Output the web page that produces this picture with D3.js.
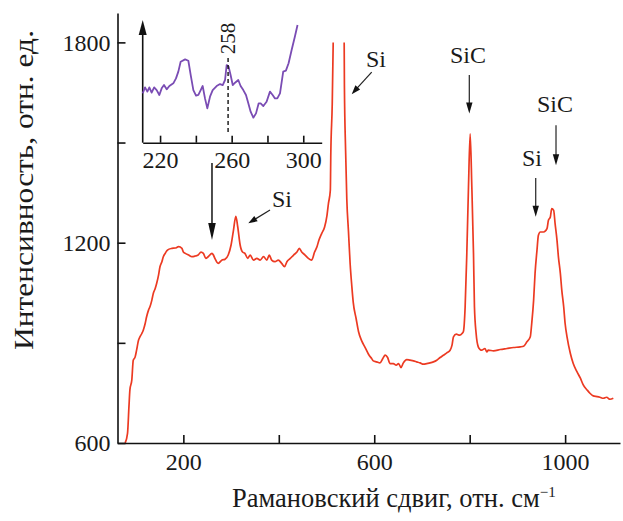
<!DOCTYPE html>
<html><head><meta charset="utf-8">
<script src="https://cdn.jsdelivr.net/npm/d3@7/dist/d3.min.js"></script>
<style>
body{margin:0;background:#fff}
svg{display:block}
text{font-family:"Liberation Serif","Times New Roman",serif;fill:#1a1a1a}
</style>
</head><body><svg id="c" width="623" height="521"></svg>
<script>
// ---- main spectrum ----
const ramanShift = [78,83,86,88,92,95,99,102,106,109,113,116,120,123,127,130,134,137,141,144,148,151,155,158,162,165,169,176,183,190,197,200,204,211,218,225,231,237,242,247,252,260,263,266,273,281,287,294,300,305,310,314,319,324,329,335,340,347,354,361,368,375,380,385,392,399,406,412,417,424,431,438,443,448,455,462,469,475,480,484,490,496,501,504,508,509,512,514,520,537,537.5,540,542.5,546,549.5,553,556,562,567,574,581,588,595,598,605,612,618,623,628,633,640,646,651,656,661,668,675,682,689,696,703,710,717,724,731,738,745,752,759,763,766,772,779,784,787,790.5,794,797.5,801,804.5,808,810,813.5,818,822,825,832,836,839,850,864,878,892,906,913,920,927,930,934,937,941,944,948,955,962,965,969,972,976,979,983,986,990,993,997,1000,1004,1011,1017,1025,1032,1038,1046,1052,1059,1067,1073,1080,1087,1094,1101];
const intensity = [600,629,709,759,789,848,858,878,908,918,928,938,958,978,998,1008,1028,1048,1063,1078,1103,1128,1143,1158,1168,1175,1180,1183,1184,1188,1183,1172,1168,1163,1158,1160,1163,1172,1168,1153,1158,1168,1163,1153,1138,1148,1150,1163,1193,1237,1279,1247,1193,1172,1168,1153,1163,1148,1153,1148,1158,1148,1163,1148,1143,1148,1138,1128,1143,1153,1163,1172,1183,1172,1163,1153,1148,1172,1188,1207,1228,1247,1282,1317,1357,1467,1616,1800,2600,1800,1670,1476,1331,1234,1137,1070,1021,973,934,905,886,866,852,846,843,840,853,863,856,838,838,833,838,826,840,850,848,846,843,840,836,838,840,843,848,856,863,870,878,893,918,926,923,928,935,1008,1168,1367,1526,1367,1168,1008,928,888,880,878,883,873,878,876,880,883,886,888,890,903,918,958,1028,1108,1177,1222,1232,1232,1242,1267,1277,1302,1297,1257,1207,1157,1108,1058,1008,958,918,868,838,813,794,774,759,749,741,739,737,734,737,731,734];

// ---- inset (zoomed region) ----
const insetShift = [210.3,211.6,212.9,214.0,215.3,216.7,218.1,219.6,220.9,222.2,223.7,225.2,227.4,228.9,230.2,231.5,234.0,235.8,237.1,238.6,240.1,241.4,242.7,243.8,245.1,246.4,247.9,249.4,251.6,253.5,255.0,256.3,257.2,258.3,259.4,260.6,261.9,263.7,265.0,266.5,268.0,269.3,270.6,272.1,273.6,275.1,276.2,277.7,279.5,281.4,282.9,284.2,285.5,287.0,288.8,290.3,291.8,293.5,295.3,296.8];
const insetIntensity = [1170.2,1175.1,1171.6,1175.1,1170.8,1175.1,1172.9,1168.9,1174.3,1177.0,1173.5,1176.2,1178.4,1182.4,1187.9,1196.0,1197.9,1196.8,1185.2,1172.9,1168.3,1168.9,1172.9,1176.2,1166.1,1158.0,1167.5,1172.9,1176.2,1177.8,1177.0,1181.1,1193.3,1191.9,1185.2,1177.0,1178.9,1181.1,1176.2,1172.9,1168.9,1162.1,1155.3,1150.4,1153.9,1162.1,1162.1,1159.9,1163.4,1171.6,1168.9,1166.1,1166.1,1170.2,1187.9,1188.7,1194.7,1205.5,1216.4,1225.9];

// ---- ticks ----
const xTickValues = [200,400,600,800,1000];
const xTickLabels = ["200","","600","","1000"];
const yTickValues = [600,900,1200,1500,1800];
const yTickLabels = ["600","","1200","","1800"];
const insetTickValues = [220,240,260,280,300];
const insetTickLabels = ["220","","260","","300"];
const markedShift = 258;

// ---- annotations (label, label position, arrow from -> to), in data units ----
const annLabels = ["Si","Si","SiC","SiC","Si"];
const annTextX = [406.7,603.7,796.5,978.8,930.6];
const annTextY = [1307,1726,1738,1591,1430];
const annFromX = [381.6,594.7,799.2,980.9,938.4];
const annFromY = [1298,1711,1702,1552,1394];
const annToX = [336.1,552.8,799.2,980.9,938.4];
const annToY = [1258,1645,1587,1432,1278];

const svg = d3.select("#c");
const x = d3.scaleLinear().domain([62,1115]).range([117.5,620]);
const y = d3.scaleLinear().domain([600,1888]).range([443,13]);

const red = "#ec3a22", purple = "#7a4cb4";

svg.append("defs").append("clipPath").attr("id","clipMain")
  .append("rect").attr("x",x(62)).attr("y",y(1800)).attr("width",x(1115)-x(62)).attr("height",y(600)-y(1800));

// main curve
const mainData = ramanShift.map((d,i)=>[d,intensity[i]]);
svg.append("path").datum(mainData)
  .attr("clip-path","url(#clipMain)")
  .attr("fill","none").attr("stroke",red).attr("stroke-width",1.7).attr("stroke-linejoin","round")
  .attr("d", d3.line().curve(d3.curveMonotoneX).x(d=>x(d[0])).y(d=>y(d[1])));

// axes
const fs = 24;
const xAxis = d3.axisBottom(x).tickValues(xTickValues).tickFormat((d,i)=>xTickLabels[i])
  .tickSizeInner(-8).tickSizeOuter(0).tickPadding(10);
const gx = svg.append("g").attr("transform",`translate(0,${y(600)})`).call(xAxis);
const yAxis = d3.axisLeft(y).tickValues(yTickValues).tickFormat((d,i)=>yTickLabels[i])
  .tickSizeInner(-8).tickSizeOuter(0).tickPadding(7);
const gy = svg.append("g").attr("transform",`translate(${x(62)},0)`).call(yAxis);
[gx,gy].forEach(g=>{
  g.select(".domain").attr("stroke","#111").attr("stroke-width",1.6);
  g.selectAll(".tick line").attr("stroke","#111").attr("stroke-width",1.6);
  g.selectAll("text").attr("font-family","Liberation Serif, serif").attr("font-size",fs).attr("fill","#1a1a1a");
});

// axis titles
const xt = svg.append("text").attr("x",232).attr("y",507).attr("font-size",26.5);
xt.append("tspan").text("Рамановский сдвиг, отн. см");
xt.append("tspan").attr("dy",-10).attr("font-size",15).text("−1");
svg.append("text").attr("transform","translate(33,190) rotate(-90)").attr("text-anchor","middle")
  .attr("font-size",28).attr("textLength",320).attr("lengthAdjust","spacingAndGlyphs")
  .text("Интенсивность, отн. ед.");

// arrow helper
function arrow(x1,y1,x2,y2,len,hw,sw){
  const dx=x2-x1, dy=y2-y1, L=Math.hypot(dx,dy), ux=dx/L, uy=dy/L;
  const bx=x2-ux*len, by=y2-uy*len;
  svg.append("line").attr("x1",x1).attr("y1",y1).attr("x2",bx+ux*2).attr("y2",by+uy*2)
    .attr("stroke","#222").attr("stroke-width",sw);
  svg.append("path").attr("d",`M${x2},${y2}L${bx-uy*hw},${by+ux*hw}L${bx+uy*hw},${by-ux*hw}Z`).attr("fill","#111");
}

// main 258 arrow
arrow(x(markedShift+2),y(1439),x(markedShift+2),y(1208),17,3.8,1.6);

// annotations
annLabels.forEach((lab,i)=>{
  svg.append("text").attr("x",x(annTextX[i])).attr("y",y(annTextY[i])).attr("text-anchor","middle")
    .attr("font-size",fs).text(lab);
  const vertical = annFromX[i]===annToX[i];
  arrow(x(annFromX[i]),y(annFromY[i]),x(annToX[i]),y(annToY[i]), vertical?11:9, 3.2, 1.2);
});

// ---- inset ----
const xi = d3.scaleLinear().domain([210.3,310.3]).range([142.7,321.7]);
const yi = d3.scaleLinear().domain([1130,1230]).range([142.7,20]);
const insetData = insetShift.map((d,i)=>[d,insetIntensity[i]]);
const gi = svg.append("g");
const xiAxis = d3.axisBottom(xi).tickValues(insetTickValues).tickFormat((d,i)=>insetTickLabels[i])
  .tickSizeInner(-7).tickSizeOuter(0).tickPadding(8);
const gxi = gi.append("g").attr("transform",`translate(0,${yi(1130)})`).call(xiAxis);
gxi.select(".domain").attr("stroke","#111").attr("stroke-width",1.6);
gxi.selectAll(".tick line").attr("stroke","#111").attr("stroke-width",1.6);
gxi.selectAll("text").attr("font-family","Liberation Serif, serif").attr("font-size",fs).attr("fill","#1a1a1a");
// inset y axis with arrow
gi.append("line").attr("x1",xi(210.3)).attr("x2",xi(210.3)).attr("y1",yi(1130)).attr("y2",yi(1222))
  .attr("stroke","#111").attr("stroke-width",1.6);
gi.append("path").attr("d",`M${xi(210.3)},${yi(1230)}L${xi(210.3)-4},${yi(1230)+15}L${xi(210.3)+4},${yi(1230)+15}Z`).attr("fill","#111");
// inset curve
gi.append("path").datum(insetData).attr("fill","none").attr("stroke",purple).attr("stroke-width",1.8)
  .attr("stroke-linejoin","round")
  .attr("d", d3.line().x(d=>xi(d[0])).y(d=>yi(d[1])));
// dashed marker
gi.append("line").attr("x1",xi(markedShift)).attr("x2",xi(markedShift)).attr("y1",yi(1199)).attr("y2",yi(1138.5))
  .attr("stroke","#111").attr("stroke-width",1.4).attr("stroke-dasharray","4,3");
gi.append("text").attr("transform",`translate(${xi(markedShift)+7},${yi(1202)}) rotate(-90)`)
  .attr("font-size",21).text(String(markedShift));
</script></body></html>
